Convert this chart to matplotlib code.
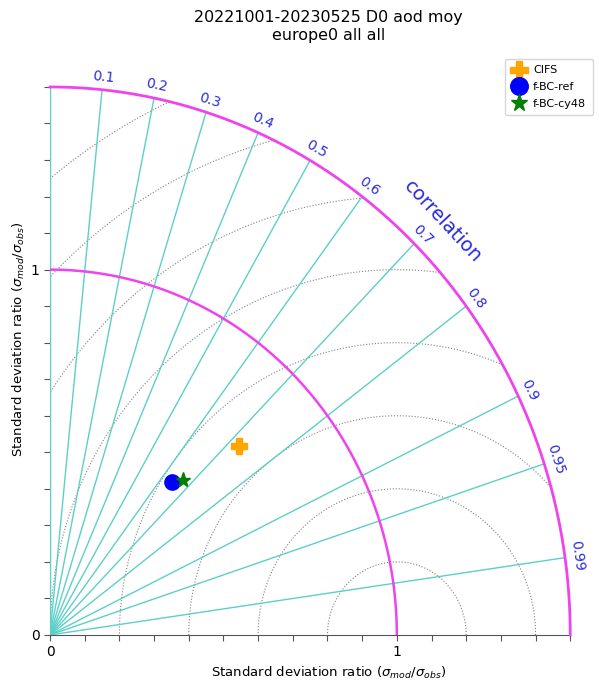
import numpy as np
import matplotlib
matplotlib.use('Agg')
import matplotlib.pyplot as plt

# Taylor diagram data (std ratio, correlation)
models = ['CIFS', 'f-BC-ref', 'f-BC-cy48']
std_ratio = [0.751, 0.545, 0.571]
corr = [0.726, 0.643, 0.669]
markers = ['P', 'o', '*']
colors = ['orange', 'blue', 'green']
msizes = [11, 11, 11]

corr_ticks = [0.0, 0.1, 0.2, 0.3, 0.4, 0.5, 0.6, 0.7, 0.8, 0.9, 0.95, 0.99]
corr_labels = ['', '0.1', '0.2', '0.3', '0.4', '0.5', '0.6', '0.7', '0.8', '0.9', '0.95', '0.99']
rms_radii = [0.2, 0.4, 0.6, 0.8, 1.0, 1.2, 1.4, 1.6]
smax = 1.5

fig = plt.figure(figsize=(5.99, 6.82), dpi=100)
ax = fig.add_axes([0.0835, 0.069, 0.8685, 0.8035])
ax.set_xlim(0, smax)
ax.set_ylim(0, smax)
ax.spines['top'].set_visible(False)
ax.spines['right'].set_visible(False)
ax.spines['bottom'].set_color('#555555')
ax.spines['left'].set_color('#5CCFC8')

t = np.linspace(0, np.pi / 2, 400)

# RMS circles centred on the reference point
for r in rms_radii:
    phi = np.linspace(0, np.pi, 600)
    xs = 1 + r * np.cos(phi)
    ys = r * np.sin(phi)
    mask = (np.hypot(xs, ys) > smax) | (xs < 0)
    xs[mask] = np.nan
    ys[mask] = np.nan
    ax.plot(xs, ys, ls=':', color='gray', lw=0.8, zorder=1)

# correlation lines and labels
for c, lab in zip(corr_ticks, corr_labels):
    th = np.arccos(c)
    ax.plot([0, smax * np.cos(th)], [0, smax * np.sin(th)], color='#5CCFC8', lw=1, zorder=2)
    if lab:
        ax.text(1.535 * np.cos(th), 1.535 * np.sin(th), lab, color='#2b2bd9', fontsize=10,
                rotation=np.degrees(th) - 90, ha='center', va='center',
                rotation_mode='anchor', clip_on=False)

ax.text(1.6 * np.cos(np.pi / 4), 1.6 * np.sin(np.pi / 4), 'correlation', color='#2b2bd9',
        fontsize=14, rotation=-47, ha='center', va='center', rotation_mode='anchor')

# std arcs
ax.plot(np.cos(t), np.sin(t), color='#EE44EE', lw=1.8, zorder=3)
ax.plot(smax * np.cos(t), smax * np.sin(t), color='#EE44EE', lw=2, zorder=3, clip_on=False)

for name, s, c, m, col, ms in zip(models, std_ratio, corr, markers, colors, msizes):
    th = np.arccos(c)
    ax.plot(s * np.cos(th), s * np.sin(th), marker=m, color=col, ms=ms, ls='none',
            label=name, zorder=5)

ticks = np.round(np.arange(0, 1.51, 0.1), 1)
ticklabels = ['0' if v == 0 else ('1' if v == 1 else '') for v in ticks]
ax.set_xticks(ticks)
ax.set_xticklabels(ticklabels)
ax.set_yticks(ticks)
ax.set_yticklabels(ticklabels)
ax.tick_params(length=4, color='#555555', labelsize=10)

ax.set_xlabel(r'Standard deviation ratio ($\sigma_{mod}/\sigma_{obs}$)', fontsize=9.5)
ax.set_ylabel(r'Standard deviation ratio ($\sigma_{mod}/\sigma_{obs}$)', fontsize=9.5)
ax.xaxis.set_label_coords(0.535, -0.055)
ax.yaxis.set_label_coords(-0.045, 0.54)

fig.suptitle('20221001-20230525 D0 aod moy\neurope0 all all', fontsize=11.4, y=0.985, x=0.548)
fig.legend(loc='upper right', bbox_to_anchor=(0.999, 0.922), fontsize=8, handletextpad=0.7,
           borderpad=0.6, labelspacing=0.6, handlelength=1.2, markerscale=1.15)

fig.savefig('out.png', dpi=100)
